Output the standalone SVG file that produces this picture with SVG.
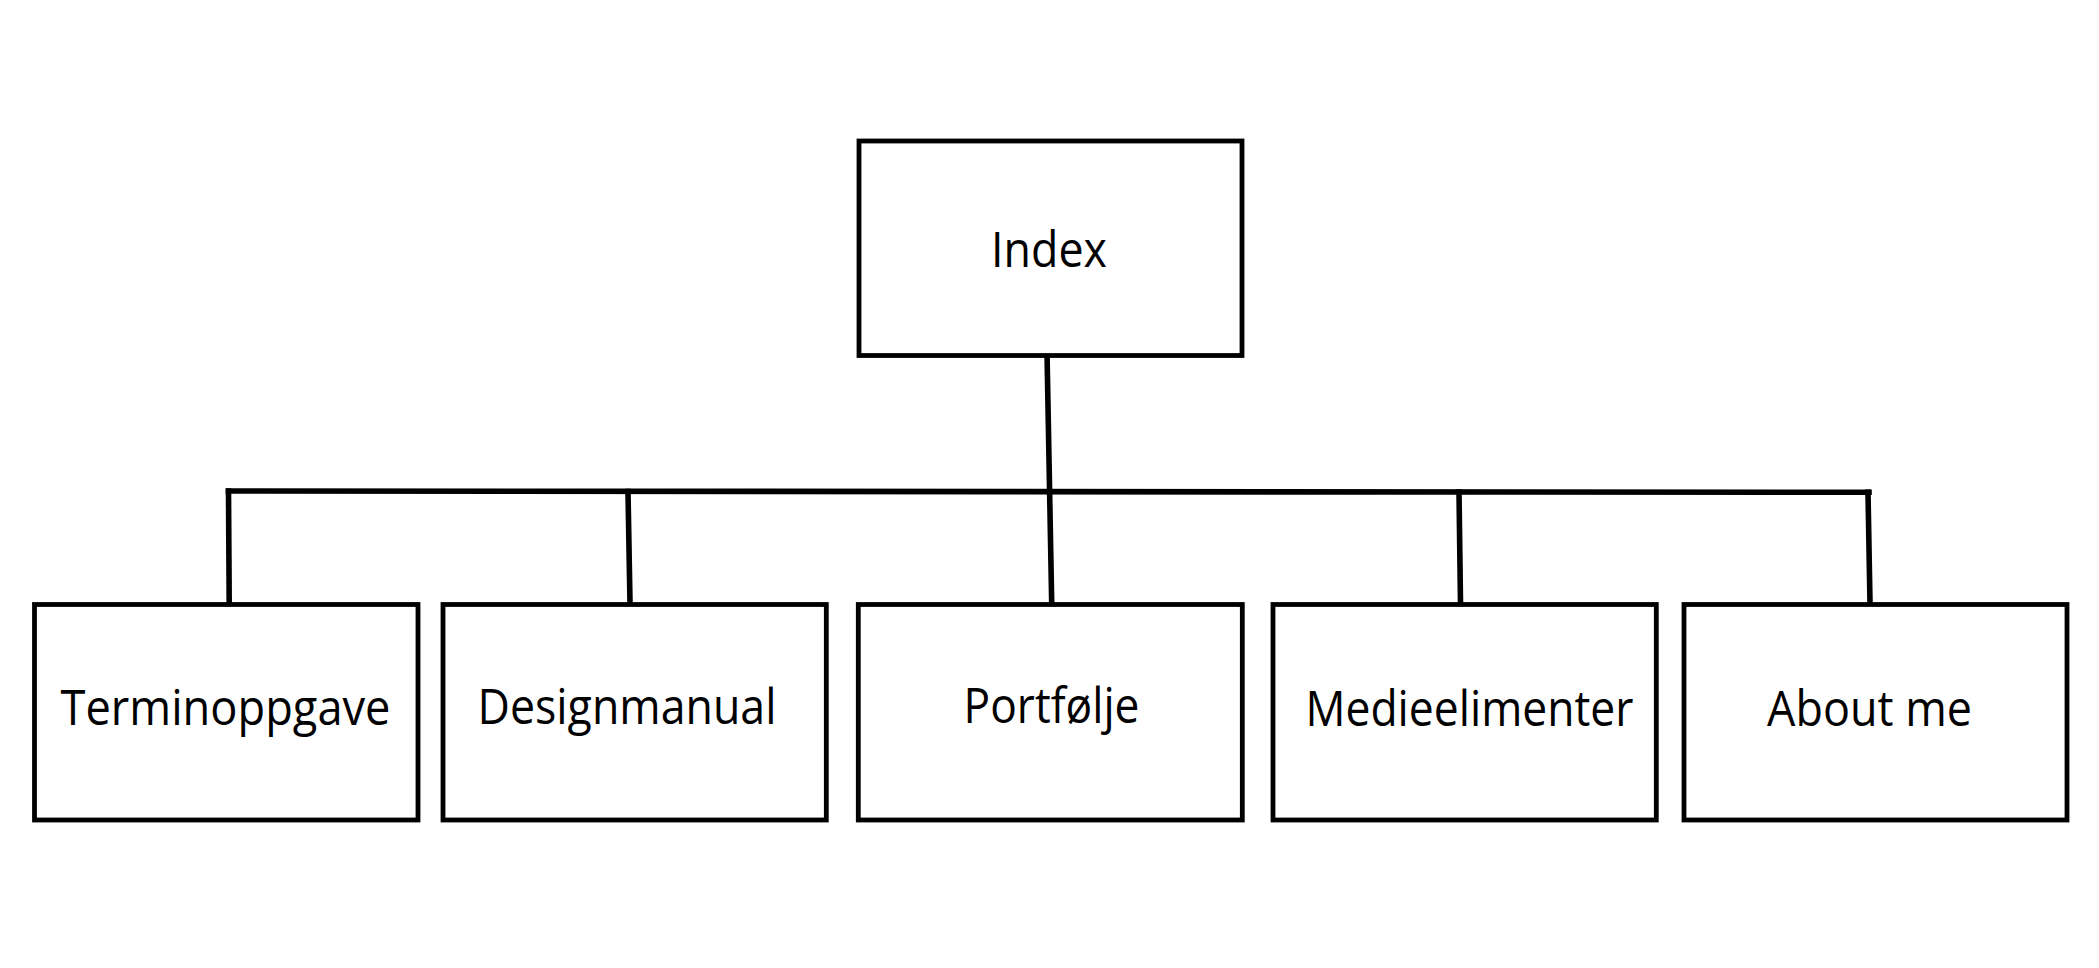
<svg xmlns="http://www.w3.org/2000/svg" width="2099" height="968" viewBox="0 0 2099 968">
<style>
.box{fill:#fff;stroke:#000;stroke-width:4.8}
.lbl{font-family:"Open Sans","Noto Sans",sans-serif;font-size:50px;fill:#000}
.con{stroke:#000;stroke-width:5.6;fill:none;stroke-linecap:square}
</style>
<rect width="2099" height="968" fill="#fff"/>
<g id="connectors">
<line class="con" x1="1047" y1="352" x2="1051.7" y2="603"/>
<line class="con" x1="228.5" y1="491" x2="1869" y2="492.3"/>
<line class="con" x1="228.5" y1="491" x2="229.2" y2="603"/>
<line class="con" x1="628" y1="491.5" x2="630" y2="603"/>
<line class="con" x1="1459" y1="492" x2="1460.5" y2="603"/>
<line class="con" x1="1868" y1="492.3" x2="1870" y2="603"/>
</g>
<g id="index">
<rect class="box" x="859" y="141" width="383" height="214.5"/>
<text class="lbl" x="991" y="266.7" textLength="116" lengthAdjust="spacingAndGlyphs">Index</text>
</g>
<g id="terminoppgave">
<rect class="box" x="34.5" y="604.5" width="383.5" height="215.5"/>
<text class="lbl" x="60.5" y="725" textLength="330" lengthAdjust="spacingAndGlyphs">Terminoppgave</text>
</g>
<g id="designmanual">
<rect class="box" x="443" y="604.5" width="383.3" height="215.5"/>
<text class="lbl" x="477.5" y="724" textLength="299" lengthAdjust="spacingAndGlyphs">Designmanual</text>
</g>
<g id="portfolje">
<rect class="box" x="858.3" y="604.5" width="384" height="215.5"/>
<text class="lbl" x="963.5" y="722.7" textLength="176" lengthAdjust="spacingAndGlyphs">Portfølje</text>
</g>
<g id="medieelimenter">
<rect class="box" x="1273" y="604.5" width="383.3" height="215.5"/>
<text class="lbl" x="1305.5" y="726" textLength="328" lengthAdjust="spacingAndGlyphs">Medieelimenter</text>
</g>
<g id="aboutme">
<rect class="box" x="1684" y="604.5" width="383" height="215.5"/>
<text class="lbl" x="1767" y="726" textLength="205" lengthAdjust="spacingAndGlyphs">About me</text>
</g>
</svg>
